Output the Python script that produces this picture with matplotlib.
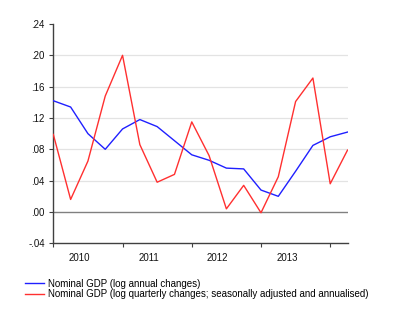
import matplotlib.pyplot as plt
import numpy as np

plt.rcParams['font.family'] = ['Liberation Sans', 'DejaVu Sans']

annual = [0.142, 0.134, 0.100, 0.080, 0.106, 0.118, 0.109, 0.091,
          0.073, 0.066, 0.056, 0.055, 0.028, 0.020, 0.052, 0.085,
          0.096, 0.102]
quarterly = [0.099, 0.016, 0.065, 0.148, 0.200, 0.086, 0.038, 0.048,
             0.115, 0.072, 0.004, 0.034, -0.001, 0.045, 0.141, 0.171,
             0.036, 0.079]
years = ["2010", "2011", "2012", "2013"]
yticks = [-0.04, 0.00, 0.04, 0.08, 0.12, 0.16, 0.20, 0.24]

x = np.arange(len(annual))

fig = plt.figure(figsize=(4, 3.24), dpi=100)
ax = fig.add_axes([0.1333, 0.249, 0.7355, 0.677])

for v in yticks[2:-1]:
    ax.axhline(v, color="#e3e3e3", lw=0.9, zorder=0)
ax.axhline(0, color="#808080", lw=1.0, zorder=1)

l1, = ax.plot(x, annual, color="#2020ff", lw=1.0, zorder=3)
l2, = ax.plot(x, quarterly, color="#ff3030", lw=1.0, zorder=3)

ax.set_xlim(0, len(annual) - 1)
ax.set_ylim(-0.04, 0.24)

ax.set_yticks(yticks)
ax.set_yticklabels([("%.2f" % v).replace("0.", ".") for v in yticks])
ax.tick_params(axis="y", length=3, width=0.8, pad=3, labelsize=7,
               color="#404040", labelcolor="#111111")

ax.set_xticks([0, 4, 8, 12, 16])
ax.set_xticklabels([])
ax.set_xticks([1.5, 5.5, 9.5, 13.5], minor=True)
ax.set_xticklabels(years, minor=True)
ax.tick_params(axis="x", which="major", length=3, width=0.8, color="#404040")
ax.tick_params(axis="x", which="minor", length=0, pad=7, labelsize=7,
               labelcolor="#111111")

for s in ["top", "right"]:
    ax.spines[s].set_visible(False)
for s in ["left", "bottom"]:
    ax.spines[s].set_color("#404040")
    ax.spines[s].set_linewidth(1.0)

fig.legend([l1, l2],
           ["Nominal GDP (log annual changes)",
            "Nominal GDP (log quarterly changes; seasonally adjusted and annualised)"],
           loc="upper left", bbox_to_anchor=(0.062, 0.140),
           frameon=False, fontsize=7, handlelength=2.0, handletextpad=0.35,
           labelspacing=0.05, borderaxespad=0, borderpad=0)

fig.savefig("out.png", dpi=100)
